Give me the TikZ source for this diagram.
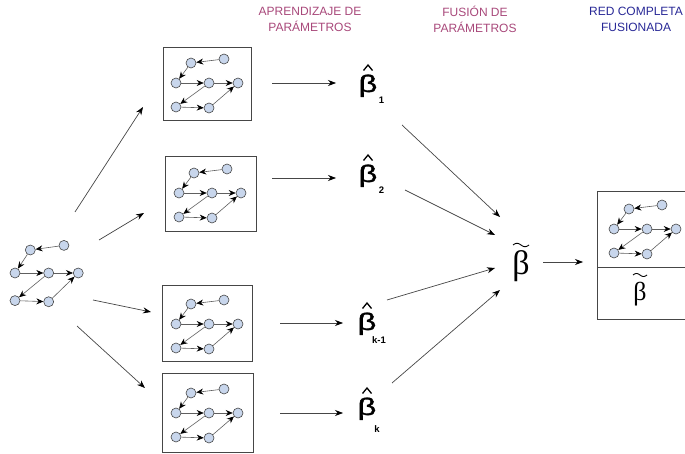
\documentclass[tikz,border=0pt]{standalone}
\usepackage{fontspec}
\setmainfont{Liberation Sans}
\newfontfamily\serifb{Liberation Serif}
\newfontfamily\betafont[FakeBold=1.2]{Liberation Sans}
\usetikzlibrary{arrows.meta}
\definecolor{hdrmag}{RGB}{168,72,122}
\definecolor{hdrblue}{RGB}{40,40,150}
\definecolor{dotfill}{RGB}{200,214,236}
\definecolor{linegray}{RGB}{70,70,70}
\definecolor{edgegray}{RGB}{95,95,95}
\tikzset{
  dot/.style={circle,draw=linegray,fill=dotfill,line width=0.6pt,minimum size=10pt,inner sep=0pt},
  edge/.style={draw=edgegray,line width=0.6pt,-{Stealth[length=7pt,width=6pt,black]}},
  arr/.style={draw=linegray,line width=0.7pt,-{Stealth[length=8pt,width=6pt,black]}},
  box/.style={draw=linegray,line width=0.8pt,inner sep=0pt},
  hdr/.style={align=center,font=\fontsize{12}{16}\selectfont},
  bigb/.style={font=\betafont\fontsize{24}{24}\selectfont,inner sep=0pt,anchor=base},
  tildb/.style={font=\serifb\fontsize{34}{34}\selectfont,inner sep=0pt,anchor=base},
  tildc/.style={font=\serifb\fontsize{26}{26}\selectfont,inner sep=0pt,anchor=base},
  subs/.style={font=\bfseries\fontsize{9.5}{9.5}\selectfont,inner sep=0pt},
  net/.pic={
    \node[dot] (-ml) at (0,0) {};
    \node[dot] (-tr) at (48,-24) {};
    \node[dot] (-tl) at (15,-20) {};
    \node[dot] (-mc) at (33,0) {};
    \node[dot] (-mr) at (62,0) {};
    \node[dot] (-bl) at (0,24) {};
    \node[dot] (-bc) at (33,25) {};
    \draw[edge] (-tr) -- (-tl);
    \draw[edge] (-tl) -- (-ml);
    \draw[edge] (-ml) -- (-mc);
    \draw[edge] (-mc) -- (-mr);
    \draw[edge] (-mc) -- (-bl);
    \draw[edge] (-bl) -- (-bc);
    \draw[edge] (-bc) -- (-mr);
  }
}
\begin{document}
\begin{tikzpicture}[x=1pt,y=-1pt]
\useasboundingbox (0,0) rectangle (685,454);
% headers
\node[hdr,text=hdrmag] (h1) at (310,19) {APRENDIZAJE DE\\PARÁMETROS};
\node[hdr,text=hdrmag] (h2) at (475,19) {FUSIÓN DE\\PARÁMETROS};
\node[hdr,text=hdrblue] (h3) at (636,19) {RED COMPLETA\\FUSIONADA};
% boxes
\node[box,minimum width=88,minimum height=73] (box1) at (207,83.5) {};
\node[box,minimum width=91,minimum height=75] (box2) at (210.5,193.5) {};
\node[box,minimum width=90,minimum height=76] (box3) at (207,323) {};
\node[box,minimum width=91,minimum height=79] (box4) at (207.5,412.5) {};
\node[box,minimum width=103,minimum height=76] (fullnet) at (648.5,229) {};
\node[box,minimum width=103,minimum height=52] (fullpar) at (648.5,293) {};
% networks
\pic[xscale=1.02,yscale=1.15] (g0) at (15,273) {net};
\pic (g1) at (176,83) {net};
\pic (g2) at (179,193) {net};
\pic (g3) at (176,324) {net};
\pic (g4) at (176,413) {net};
\pic (g5) at (614,229) {net};
% betas
\node[bigb] (b1) at (368,92) {\scalebox{1.35}[1]{β}};
\node[bigb] (b2) at (368,182) {\scalebox{1.35}[1]{β}};
\node[bigb] (b3) at (367,330) {\scalebox{1.35}[1]{β}};
\node[bigb] (b4) at (367,415) {\scalebox{1.35}[1]{β}};
\foreach \b in {b1,b2,b3,b4}{
  \draw[line width=1.3pt,line join=miter] ([shift={(-4.5pt,21.5pt)}]\b.base) -- ([shift={(0pt,27pt)}]\b.base) -- ([shift={(4.5pt,21.5pt)}]\b.base);
}
\node[subs] (s1) at (381.5,100) {1};
\node[subs] (s2) at (381.5,190) {2};
\node[subs] (s3) at (379,340) {k-1};
\node[subs] (s4) at (377,429) {k};
\node[tildb] (bt) at (521,275) {β};
\node[tildc] (bt2) at (640,300) {β};
\draw[line width=0.9pt,domain=-8:8,samples=31,shift={(bt.base)}] plot (\x,{-30+1.7*sin(\x*180/8)});
\draw[line width=0.9pt,domain=-7:7,samples=31,shift={(bt2.base)}] plot (\x,{-25+1.5*sin(\x*180/7)});
% arrow endpoints
\coordinate (a1s) at (75,212); \coordinate (a1e) at (143,107);
\coordinate (a2s) at (99,240); \coordinate (a2e) at (144,213);
\coordinate (a3s) at (93,300); \coordinate (a3e) at (151,312);
\coordinate (a4s) at (77,326); \coordinate (a4e) at (145,388);
\coordinate (c1s) at (272,83); \coordinate (c1e) at (336,83);
\coordinate (c2s) at (272,178); \coordinate (c2e) at (336,178);
\coordinate (c3s) at (280,323); \coordinate (c3e) at (343,323);
\coordinate (c4s) at (280,413); \coordinate (c4e) at (343,413);
\coordinate (f1s) at (402,125); \coordinate (f1e) at (500,217);
\coordinate (f2s) at (405,190); \coordinate (f2e) at (495,235);
\coordinate (f3s) at (387,300); \coordinate (f3e) at (495,268);
\coordinate (f4s) at (392,383); \coordinate (f4e) at (500,290);
\coordinate (rs) at (543,262); \coordinate (re) at (583,262);
\foreach \p in {a1,a2,a3,a4,c1,c2,c3,c4,f1,f2,f3,f4,r}{
  \draw[arr] (\p s) -- (\p e);
}
\end{tikzpicture}
\end{document}
